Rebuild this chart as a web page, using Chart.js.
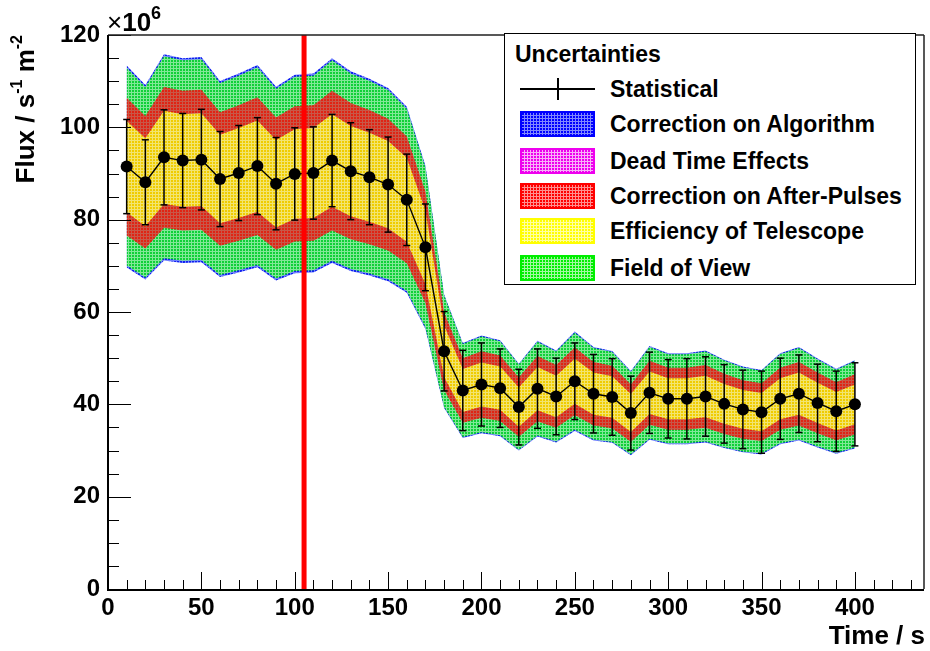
<!DOCTYPE html>
<html>
<head>
<meta charset="utf-8">
<script src="https://cdn.jsdelivr.net/npm/chart.js@4.4.1/dist/chart.umd.min.js"></script>
<style>
html,body{margin:0;padding:0;background:#fff;}
#wrap{position:relative;width:930px;height:651px;overflow:hidden;font-family:'Liberation Sans',Arial,Helvetica,sans-serif;font-weight:bold;color:#000;}
#c{position:absolute;left:0;top:0;}
.ov{position:absolute;white-space:nowrap;}
#ytitle{left:-125px;top:170px;width:300px;height:30px;line-height:30px;text-align:right;font-size:26px;transform:rotate(-90deg);}
#ytitle .sup{font-size:16px;position:relative;top:-12px;}
#mult{left:107px;top:9px;font-size:26px;line-height:26px;}
#mult .x{font-weight:normal;}
#mult .sup{font-size:18px;position:relative;top:-12px;}
#xtitle{right:5px;top:622px;font-size:26px;line-height:26px;}
#legend{position:absolute;left:504px;top:33px;width:412px;height:252px;border:1px solid #000;background:#fff;box-sizing:border-box;}
#legend .t{position:absolute;left:10px;font-size:23px;line-height:26px;white-space:nowrap;}
#legend .sw{position:absolute;left:15px;width:75px;height:26px;box-sizing:border-box;border:2px solid;image-rendering:pixelated;}
#legend .lbl{position:absolute;left:105px;font-size:23px;line-height:26px;white-space:nowrap;}
</style>
</head>
<body>
<div id="wrap">
<canvas id="c" width="930" height="651"></canvas>
<div id="ytitle" class="ov">Flux / s<span class="sup">-1</span> m<span class="sup">-2</span></div>
<div id="mult" class="ov"><span class="x">×</span>10<span class="sup">6</span></div>
<div id="xtitle" class="ov">Time / s</div>
<div id="legend"></div>
</div>
<script>
// ---- data ----
const times = [10,20,30,40,50,60,70,80,90,100,110,120,130,140,150,160,170,180,190,200,
               210,220,230,240,250,260,270,280,290,300,310,320,330,340,350,360,370,380,390,400];
const flux = [91.5,88.1,93.5,92.8,93.0,88.8,90.1,91.6,87.8,89.9,90.1,92.8,90.5,89.2,87.6,84.3,74.0,51.5,43.0,44.3,
              43.5,39.4,43.4,41.7,45.0,42.3,41.6,38.1,42.5,41.2,41.2,41.7,40.1,38.9,38.3,41.2,42.3,40.3,38.5,40.0];
const statErr = [10.2,9.2,10.3,10.2,10.9,10.3,10.3,10.5,10.0,10.0,10.0,10.0,10.5,10.3,10.3,9.9,9.4,8.6,8.7,9.0,
                 8.5,8.2,8.6,8.3,8.3,8.5,8.3,8.0,8.8,8.5,8.7,8.6,8.5,8.5,8.9,8.8,8.4,8.4,8.7,9.0];
// relative systematic uncertainty bands (cumulative half-widths)
const sysAlgorithm = 0.239;
const sysFieldOfView = 0.234;
const sysAfterPulses = 0.163;
const sysDeadTime = 0.160;
const sysEfficiency = 0.108;
const markerTime = 105;
const xRange = [0, 437];
const yRange = [0, 120];
const xTickStep = 50, xMinorStep = 10;
const yTickStep = 20, yMinorStep = 5;
const legendTitle = 'Uncertainties';
const legendLabels = ['Statistical','Correction on Algorithm','Dead Time Effects','Correction on After-Pulses','Efficiency of Telescope','Field of View'];

// ---- styles ----
const FONT = "'Liberation Sans', Arial, Helvetica, sans-serif";
function makeTile(main, gap) {
  const c = document.createElement('canvas');
  c.width = 3; c.height = 3;
  const g = c.getContext('2d');
  g.fillStyle = gap; g.fillRect(0, 0, 3, 3);
  g.fillStyle = main; g.fillRect(0, 0, 2, 2);
  return c;
}
function makePattern(main, gap) {
  const c = makeTile(main, gap);
  return c.getContext('2d').createPattern(c, 'repeat');
}
const bandStyles = {
  algorithm: {main:'#1020f0', gap:'#7080ff', css:'#0000ff', swGap:'#8088ff'},
  fov:       {main:'#10d038', gap:'#80e898', css:'#00ee00', swGap:'#a0f8a0'},
  dead:      {main:'#d020d0', gap:'#f0a0f0', css:'#ee00ee', swGap:'#f8b0f8'},
  after:     {main:'#e02414', gap:'#c85848', css:'#ff0000', swGap:'#ff9090'},
  eff:       {main:'#f0cc00', gap:'#f2e470', css:'#ffff00', swGap:'#ffffa0'}
};

function bandPair(frac, style, order) {
  const pat = makePattern(style.main, style.gap);
  const up = times.map((t, i) => ({x: t, y: flux[i] * (1 + frac)}));
  const lo = times.map((t, i) => ({x: t, y: flux[i] * (1 - frac)}));
  return [
    {data: up, fill: '+1', backgroundColor: pat, borderWidth: 0, pointRadius: 0, order: order, tension: 0},
    {data: lo, fill: false, backgroundColor: pat, borderWidth: 0, pointRadius: 0, order: order, tension: 0}
  ];
}

const errData = [];
times.forEach((t, i) => {
  errData.push({x: t, y: flux[i] - statErr[i]});
  errData.push({x: t, y: flux[i] + statErr[i]});
  errData.push({x: t, y: null});
});

const datasets = [
  ...bandPair(sysAlgorithm, bandStyles.algorithm, 10),
  ...bandPair(sysFieldOfView, bandStyles.fov, 9),
  ...bandPair(sysDeadTime, bandStyles.dead, 8),
  ...bandPair(sysAfterPulses, bandStyles.after, 7),
  ...bandPair(sysEfficiency, bandStyles.eff, 6),
  {data: errData, borderColor: '#000', borderWidth: 1.5, pointStyle: 'line', pointRadius: 3.5,
   pointBorderColor: '#000', pointBorderWidth: 1.5, fill: false, spanGaps: false, order: 3},
  {data: times.map((t, i) => ({x: t, y: flux[i]})), borderColor: '#000', borderWidth: 1.4,
   pointRadius: 6, pointBackgroundColor: '#000', pointBorderColor: '#000', pointBorderWidth: 0, fill: false, order: 2},
  {data: [{x: markerTime, y: yRange[0]}, {x: markerTime, y: yRange[1]}], borderColor: '#ff0000', borderWidth: 5,
   pointRadius: 0, fill: false, order: 1}
];

const rootAxes = {
  id: 'rootAxes',
  afterDatasetsDraw(chart) {
    const {ctx, chartArea: a, scales: {x, y}} = chart;
    ctx.save();
    ctx.strokeStyle = '#000';
    ctx.lineWidth = 1;
    ctx.beginPath();
    for (let v = xRange[0]; v <= xRange[1] + 1e-9; v += xMinorStep) {
      const px = Math.round(x.getPixelForValue(v)) + 0.5;
      const len = (v % xTickStep === 0) ? 17 : 9;
      ctx.moveTo(px, a.bottom); ctx.lineTo(px, a.bottom - len);
    }
    for (let v = yRange[0]; v <= yRange[1] + 1e-9; v += yMinorStep) {
      const py = Math.round(y.getPixelForValue(v)) + 0.5;
      const len = (v % yTickStep === 0) ? 23 : 11;
      ctx.moveTo(a.left, py); ctx.lineTo(a.left + len, py);
    }
    ctx.stroke();
    ctx.lineWidth = 1.5;
    ctx.strokeStyle = '#222';
    ctx.beginPath();
    ctx.moveTo(a.left, a.top); ctx.lineTo(a.right, a.top);
    ctx.moveTo(a.right, a.top); ctx.lineTo(a.right, a.bottom);
    ctx.stroke();
    ctx.lineWidth = 2;
    ctx.strokeStyle = '#000';
    ctx.beginPath();
    ctx.moveTo(a.left, a.top); ctx.lineTo(a.left, a.bottom + 1); ctx.lineTo(a.right, a.bottom + 1);
    ctx.stroke();
    ctx.restore();
  }
};

new Chart(document.getElementById('c'), {
  type: 'line',
  data: {datasets},
  options: {
    responsive: false,
    animation: false,
    devicePixelRatio: 1,
    layout: {padding: {left: 0, top: 35, right: 5, bottom: 0}},
    plugins: {legend: {display: false}, tooltip: {enabled: false}},
    elements: {line: {tension: 0}},
    scales: {
      x: {
        type: 'linear', min: xRange[0], max: xRange[1],
        grid: {display: false, drawTicks: false},
        border: {display: false},
        ticks: {stepSize: xTickStep, padding: 5, color: '#000', font: {family: FONT, size: 24, weight: 'bold'}, maxRotation: 0},
        afterBuildTicks(s) { s.ticks = s.ticks.filter(t => t.value % xTickStep === 0); },
        afterFit(s) { s.height = 62; }
      },
      y: {
        type: 'linear', min: yRange[0], max: yRange[1],
        grid: {display: false, drawTicks: false},
        border: {display: false},
        ticks: {stepSize: yTickStep, padding: 8, color: '#000', font: {family: FONT, size: 24, weight: 'bold'}},
        afterFit(s) { s.width = 108; }
      }
    }
  },
  plugins: [rootAxes]
});

// ---- legend (HTML) ----
const lg = document.getElementById('legend');
const rowCenters = [55, 90, 127, 162, 197, 234];
const titleCenter = 20;
const swatchKeys = [null, 'algorithm', 'dead', 'after', 'eff', 'fov'];
let html = `<div class="t" style="top:${titleCenter - 13}px">${legendTitle}</div>`;
legendLabels.forEach((lab, i) => {
  const cy = rowCenters[i];
  if (i === 0) {
    html += `<div style="position:absolute;left:15px;top:${cy - 1}px;width:75px;height:1.5px;background:#000"></div>`;
    html += `<div style="position:absolute;left:52px;top:${cy - 11}px;width:1.5px;height:22px;background:#000"></div>`;
  } else {
    const s = bandStyles[swatchKeys[i]];
    const url = makeTile(s.css, s.swGap).toDataURL();
    html += `<div class="sw" style="top:${cy - 13}px;border-color:${s.css};background-image:url(${url});background-size:3px 3px"></div>`;
  }
  html += `<div class="lbl" style="top:${cy - 13}px">${lab}</div>`;
});
lg.innerHTML = html;
</script>
</body>
</html>
